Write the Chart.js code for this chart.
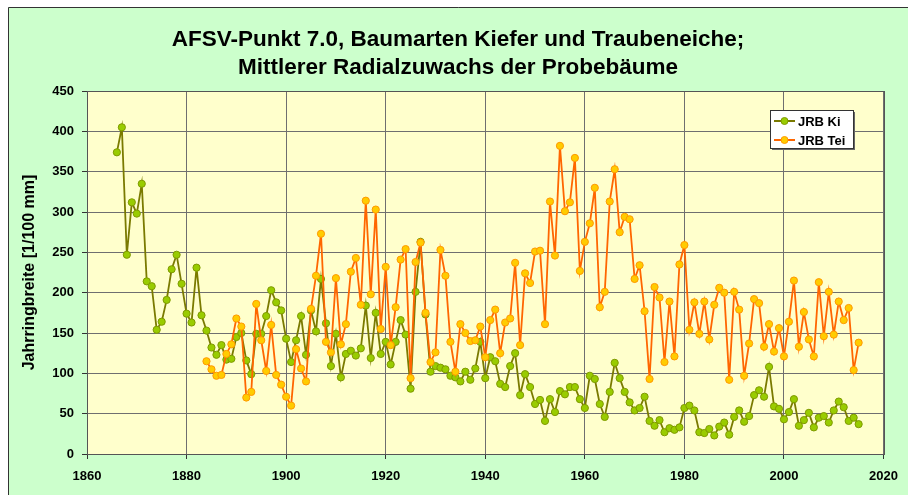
<!DOCTYPE html>
<html>
<head>
<meta charset="utf-8">
<script src="https://cdn.jsdelivr.net/npm/chart.js@4.4.1/dist/chart.umd.min.js"></script>
<style>
  html, body { margin: 0; padding: 0; background: #ffffff; }
  #wrap { width: 908px; height: 495px; position: relative; }
</style>
</head>
<body>
<div id="wrap"><canvas id="c" width="908" height="495"></canvas></div>
<script>
// ---- Data ----
const titleLines = ["AFSV-Punkt 7.0, Baumarten Kiefer und Traubeneiche;", "Mittlerer Radialzuwachs der Probebäume"];
const yAxisTitle = "Jahrringbreite [1/100 mm]";
const seriesNames = ["JRB Ki", "JRB Tei"];
const xTickLabels = [1860, 1880, 1900, 1920, 1940, 1960, 1980, 2000, 2020];
const yTickLabels = [0, 50, 100, 150, 200, 250, 300, 350, 400, 450];

const kiFirstYear = 1866;
const kiValues = [
  374, 405, 247, 312, 298, 335, 214, 208, 154, 164,   // 1866-1875
  191, 229, 247, 211, 174, 163, 231, 172, 153, 132,   // 1876-1885
  123, 135, 117, 118, 145, 150, 116, 99, 149, 149,    // 1886-1895
  171, 203, 188, 178, 143, 114, 141, 171, 123, 178,   // 1896-1905
  152, 217, 162, 109, 149, 95, 124, 128, 122, 131,    // 1906-1915
  184, 119, 175, 124, 139, 111, 139, 166, 148, 81,    // 1916-1925
  201, 263, 173, 102, 109, 107, 105, 97, 95, 90,      // 1926-1935
  102, 92, 106, 139, 94, 120, 115, 87, 83, 109,       // 1936-1945
  125, 73, 99, 83, 62, 67, 41, 68, 52, 78,            // 1946-1955
  74, 83, 83, 68, 57, 97, 93, 62, 46, 77,             // 1956-1965
  113, 94, 77, 64, 54, 57, 71, 41, 35, 42,            // 1966-1975
  27, 32, 30, 33, 57, 60, 54, 27, 26, 31,             // 1976-1985
  23, 34, 39, 24, 46, 54, 40, 47, 73, 79,             // 1986-1995
  71, 108, 59, 56, 43, 52, 68, 35, 42, 51,            // 1996-2005
  33, 45, 47, 39, 54, 65, 58, 41, 45, 37              // 2006-2015
];

const teiFirstYear = 1884;
const teiValues = [
  115, 105, 97, 98, 124, 136, 168, 158, 70, 77,       // 1884-1893
  186, 141, 103, 160, 98, 86, 71, 60, 130, 106,       // 1894-1903
  90, 180, 221, 273, 139, 126, 218, 136, 161, 226,    // 1904-1913
  243, 185, 314, 198, 303, 155, 232, 135, 182, 241,   // 1914-1923
  254, 94, 238, 262, 175, 114, 126, 253, 221, 139,    // 1924-1933
  102, 161, 150, 140, 141, 158, 120, 166, 179, 125,   // 1934-1943
  163, 168, 237, 135, 224, 212, 251, 252, 161, 313,   // 1944-1953
  246, 382, 301, 312, 367, 227, 263, 286, 330, 182,   // 1954-1963
  201, 313, 353, 275, 294, 291, 217, 234, 177, 93,    // 1964-1973
  207, 194, 114, 189, 121, 235, 259, 154, 188, 149,   // 1974-1983
  189, 142, 185, 206, 200, 92, 201, 179, 97, 137,     // 1984-1993
  192, 187, 133, 161, 127, 156, 121, 164, 215, 133,   // 1994-2003
  176, 142, 121, 213, 146, 201, 148, 189, 166, 181,   // 2004-2013
  104, 138                                            // 2014-2015
];

// ---- Build points ----
const toPoints = (first, vals) => vals.map((v, i) => ({ x: first + i, y: v }));

const FONT = "'Liberation Sans', Arial, sans-serif";

const deco = {
  id: 'deco',
  beforeDraw(chart) {
    const ctx = chart.ctx;
    const ca = chart.chartArea;
    ctx.save();
    ctx.fillStyle = '#ffffff';
    ctx.fillRect(0, 0, chart.width, chart.height);
    ctx.fillStyle = '#CCFFCC';
    ctx.fillRect(8, 7, chart.width - 8, chart.height - 7);
    ctx.strokeStyle = '#333333';
    ctx.lineWidth = 1;
    ctx.beginPath();
    ctx.moveTo(8.5, chart.height);
    ctx.lineTo(8.5, 7.5);
    ctx.lineTo(chart.width, 7.5);
    ctx.stroke();
    ctx.fillStyle = '#FFFFCC';
    ctx.fillRect(ca.left, ca.top, ca.right - ca.left, ca.bottom - ca.top);
    ctx.restore();
  },
  beforeDatasetsDraw(chart) {
    const ctx = chart.ctx;
    const ca = chart.chartArea;
    ctx.save();
    ctx.strokeStyle = '#555555';
    ctx.lineWidth = 1;
    ctx.strokeRect(Math.round(ca.left) + 0.5, Math.round(ca.top) + 0.5,
                   Math.round(ca.right - ca.left), Math.round(ca.bottom - ca.top));
    ctx.restore();
  },
  afterDraw(chart) {
    const ctx = chart.ctx;
    const ca = chart.chartArea;
    ctx.save();
    // Title
    ctx.fillStyle = '#000000';
    ctx.font = 'bold 22.5px ' + FONT;
    ctx.textAlign = 'center';
    ctx.textBaseline = 'middle';
    ctx.fillText(titleLines[0], 458, 40);
    ctx.fillText(titleLines[1], 458, 68);
    // Y axis title
    ctx.font = 'bold 16px ' + FONT;
    ctx.translate(30, (ca.top + ca.bottom) / 2);
    ctx.rotate(-Math.PI / 2);
    ctx.fillText(yAxisTitle, 0, 0);
    ctx.restore();

    // Legend
    ctx.save();
    const bx = 770, by = 110, bw = 83, bh = 38;
    ctx.fillStyle = '#666666';
    ctx.fillRect(bx + 2, by + 2, bw, bh);
    ctx.fillStyle = '#ffffff';
    ctx.fillRect(bx, by, bw, bh);
    ctx.strokeStyle = '#333333';
    ctx.lineWidth = 1;
    ctx.strokeRect(bx + 0.5, by + 0.5, bw, bh);
    const rows = [121, 140];
    chart.data.datasets.forEach((ds, i) => {
      const y = rows[i];
      ctx.strokeStyle = ds.borderColor;
      ctx.lineWidth = 2;
      ctx.beginPath();
      ctx.moveTo(774, y);
      ctx.lineTo(795, y);
      ctx.stroke();
      ctx.fillStyle = ds.pointBackgroundColor;
      ctx.strokeStyle = ds.pointBorderColor;
      ctx.lineWidth = 1;
      ctx.beginPath();
      ctx.arc(784.5, y, 3.5, 0, Math.PI * 2);
      ctx.fill();
      ctx.stroke();
      ctx.fillStyle = '#000000';
      ctx.font = 'bold 13px ' + FONT;
      ctx.textAlign = 'left';
      ctx.textBaseline = 'middle';
      ctx.fillText(ds.label, 798, y + 1);
    });
    ctx.restore();
  }
};

const gridColor = (ctx) => {
  return '#6f6f6f';
};

new Chart(document.getElementById('c'), {
  type: 'line',
  data: {
    datasets: [
      {
        label: seriesNames[0],
        data: toPoints(kiFirstYear, kiValues),
        borderColor: '#7A7A00',
        borderWidth: 1.8,
        pointBackgroundColor: '#99CC00',
        pointBorderColor: '#7F9A00',
        pointBorderWidth: 1,
        pointRadius: 3.6,
        tension: 0,
        order: 2
      },
      {
        label: seriesNames[1],
        data: toPoints(teiFirstYear, teiValues),
        borderColor: '#FF6600',
        borderWidth: 1.8,
        pointBackgroundColor: '#FFCC00',
        pointBorderColor: '#FF9900',
        pointBorderWidth: 1,
        pointRadius: 3.6,
        tension: 0,
        order: 1
      }
    ]
  },
  options: {
    responsive: false,
    animation: false,
    devicePixelRatio: 1,
    layout: { padding: { top: 91, right: 16, bottom: 0, left: 0 } },
    plugins: {
      legend: { display: false },
      title: { display: false },
      tooltip: { enabled: false }
    },
    scales: {
      x: {
        type: 'linear',
        min: xTickLabels[0],
        max: xTickLabels[xTickLabels.length - 1],
        afterBuildTicks: (scale) => { scale.ticks = xTickLabels.map(v => ({ value: v })); },
        afterFit: (scale) => { scale.height = 41; },
        ticks: {
          callback: (v) => String(v),
          color: '#000000',
          font: { family: FONT, size: 13, weight: 'bold' },
          padding: 10,
          maxRotation: 0
        },
        grid: {
          color: gridColor,
          lineWidth: 1,
          borderDash: [2, 2],
          drawTicks: true,
          tickLength: 5,
          tickColor: '#333333',
          tickBorderDash: []
        },
        border: { display: true, color: '#333333', width: 1 }
      },
      y: {
        min: yTickLabels[0],
        max: yTickLabels[yTickLabels.length - 1],
        afterBuildTicks: (scale) => { scale.ticks = yTickLabels.map(v => ({ value: v })); },
        afterFit: (scale) => { scale.width = 87; },
        ticks: {
          callback: (v) => String(v),
          color: '#000000',
          font: { family: FONT, size: 13, weight: 'bold' },
          padding: 8
        },
        grid: {
          color: gridColor,
          lineWidth: 1,
          borderDash: [2, 2],
          drawTicks: true,
          tickLength: 5,
          tickColor: '#333333',
          tickBorderDash: []
        },
        border: { display: true, color: '#333333', width: 1 }
      }
    }
  },
  plugins: [deco]
});
</script>
</body>
</html>
